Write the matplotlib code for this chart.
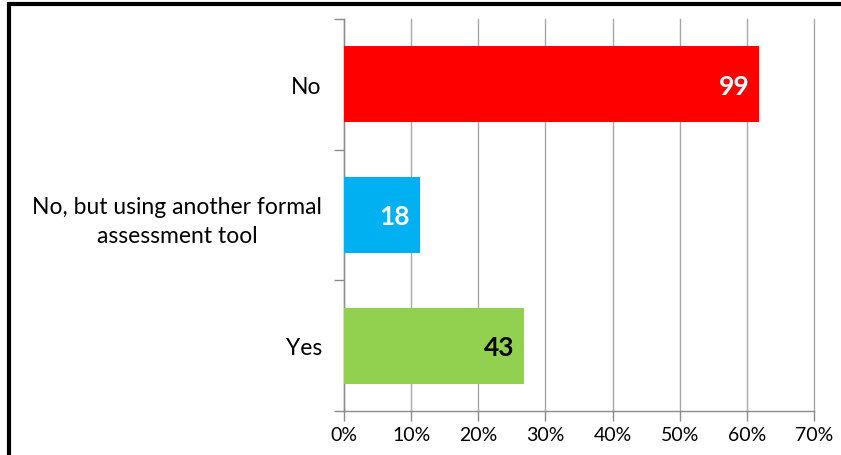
import matplotlib.pyplot as plt
from matplotlib.patches import Rectangle
from matplotlib.ticker import PercentFormatter, MultipleLocator

# data (bottom to top)
categories = ['Yes', 'No, but using another formal\nassessment tool', 'No']
counts = [43, 18, 99]
bar_colors = ['#92D050', '#00B0F0', '#FF0000']
label_colors = ['black', 'white', 'white']

total = sum(counts)
shares = [c / total * 100 for c in counts]

plt.rcParams['font.family'] = ['Lato', 'DejaVu Sans']

fig = plt.figure(figsize=(8.41, 4.56), dpi=100)
ax = fig.add_axes([344 / 841, 1 - 412 / 456, (814 - 344) / 841, (412 - 20) / 456])

y = range(len(categories))
ax.barh(y, shares, height=0.58, color=bar_colors, zorder=3)

for yi, s, c, lc in zip(y, shares, counts, label_colors):
    ax.annotate(str(c), (s, yi), xytext=(-7, -1), textcoords='offset points',
                ha='right', va='center', fontsize=19, fontweight='bold', color=lc, zorder=4)

ax.set_xlim(0, 70)
ax.set_ylim(-0.5, 2.5)
ax.xaxis.set_major_locator(MultipleLocator(10))
ax.xaxis.set_major_formatter(PercentFormatter(decimals=0))
ax.grid(axis='x', color='#A6A6A6', linewidth=1, zorder=0)
for gl in ax.get_xgridlines():
    gl.set_clip_on(False)

ax.set_yticks([-0.5, 0.5, 1.5, 2.5], minor=False)
ax.set_yticklabels([])
ax.set_yticks(list(y), minor=True)
ax.set_yticklabels(categories, minor=True, fontsize=16.5, linespacing=1.45)
ax.tick_params(axis='y', which='minor', length=0, pad=16)
ax.tick_params(axis='y', which='major', length=7, color='#8C8C8C', width=1)
ax.tick_params(axis='x', length=7, color='#8C8C8C', width=1, labelsize=14, pad=4)
for lbl in ax.get_yticklabels(minor=True):
    lbl.set_horizontalalignment('right')
    lbl.set_multialignment('center')

for side in ['top', 'right']:
    ax.spines[side].set_visible(False)
for side in ['left', 'bottom']:
    ax.spines[side].set_color('#8C8C8C')
    ax.spines[side].set_linewidth(1)

# outer frame
fig.patches.append(Rectangle((8.5 / 841, -0.1), 1.2, 1.1 - 4.5 / 456,
                             transform=fig.transFigure, fill=False,
                             edgecolor='black', linewidth=3, clip_on=False))

fig.savefig('out.png', dpi=100)
